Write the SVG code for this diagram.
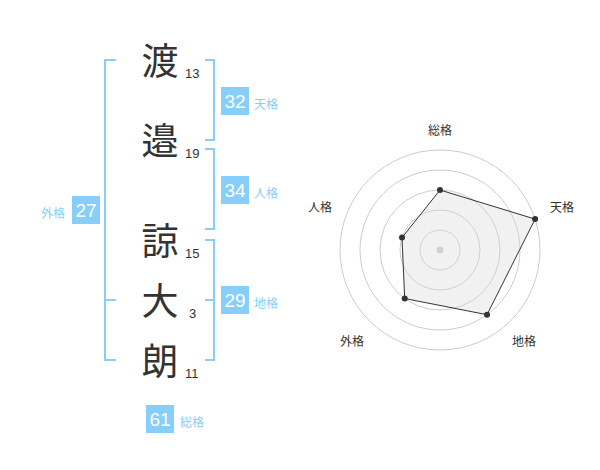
<svg xmlns="http://www.w3.org/2000/svg" width="600" height="470" viewBox="0 0 600 470">
<style>
.ch{font-family:"Noto Sans CJK JP","Noto Sans CJK SC",sans-serif;font-size:37px;fill:#333;text-anchor:middle}
.num{font-family:"Liberation Sans",Arial,sans-serif;font-size:13px;fill:#333}
.br{fill:none;stroke:#87cefa;stroke-width:2}
.box{fill:#87cefa}
.bn{font-family:"Liberation Sans",Arial,sans-serif;font-size:19px;fill:#fff;text-anchor:middle}
.bl{font-family:"Noto Sans CJK JP","Noto Sans CJK SC",sans-serif;font-size:12px;fill:#87cefa}
.ax{font-family:"Noto Sans CJK JP","Noto Sans CJK SC",sans-serif;font-size:12px;fill:#333;text-anchor:middle}
.ring{fill:none;stroke:#ccc;stroke-width:1}
</style>
<rect width="600" height="470" fill="#fff"/>
<g id="connectors">
<path class="br" d="M116,60 H105 V360 H116 M105,300 H116"/>
<path class="br" d="M205,60 H214 V140 H205"/>
<path class="br" d="M205,149 H214 V229 H205"/>
<path class="br" d="M205,240 H214 V360 H205 M205,300 H214"/>
</g>
<g id="char1"><text class="ch" x="160" y="75">渡</text><text class="num" x="185" y="78">13</text></g>
<g id="char2"><text class="ch" x="160" y="155">邉</text><text class="num" x="185" y="158">19</text></g>
<g id="char3"><text class="ch" x="160" y="255">諒</text><text class="num" x="185" y="258">15</text></g>
<g id="char4"><text class="ch" x="160" y="315">大</text><text class="num" x="189" y="318">3</text></g>
<g id="char5"><text class="ch" x="160" y="375">朗</text><text class="num" x="185" y="378">11</text></g>
<g id="tenkaku"><rect class="box" x="221" y="87" width="28" height="28"/><text class="bn" x="235" y="108">32</text><text class="bl" x="254" y="109">天格</text></g>
<g id="jinkaku"><rect class="box" x="221" y="176" width="28" height="28"/><text class="bn" x="235" y="197">34</text><text class="bl" x="254" y="198">人格</text></g>
<g id="chikaku"><rect class="box" x="221" y="286" width="28" height="28"/><text class="bn" x="235" y="307">29</text><text class="bl" x="254" y="308">地格</text></g>
<g id="gaikaku"><rect class="box" x="72" y="196" width="28" height="28"/><text class="bn" x="86" y="217">27</text><text class="bl" x="41" y="218">外格</text></g>
<g id="soukaku"><rect class="box" x="146" y="405" width="28" height="28"/><text class="bn" x="160" y="426">61</text><text class="bl" x="180" y="427">総格</text></g>
<g id="radar">
<circle class="ring" cx="440" cy="250" r="20"/>
<circle class="ring" cx="440" cy="250" r="40"/>
<circle class="ring" cx="440" cy="250" r="60"/>
<circle class="ring" cx="440" cy="250" r="80"/>
<circle class="ring" cx="440" cy="250" r="100"/>
<circle cx="440" cy="250" r="3.5" fill="#ccc"/>
<polygon points="440,190 535.1,219.1 487,314.7 404.7,298.5 402,237.6" fill="#d8d8d8" fill-opacity="0.35" stroke="#333" stroke-width="1"/>
<g fill="#333">
<circle cx="440" cy="190" r="3"/>
<circle cx="535.1" cy="219.1" r="3"/>
<circle cx="487" cy="314.7" r="3"/>
<circle cx="404.7" cy="298.5" r="3"/>
<circle cx="402" cy="237.6" r="3"/>
</g>
<text class="ax" x="440" y="135">総格</text>
<text class="ax" x="562" y="212">天格</text>
<text class="ax" x="320" y="212">人格</text>
<text class="ax" x="352" y="346">外格</text>
<text class="ax" x="524" y="346">地格</text>
</g>
</svg>
